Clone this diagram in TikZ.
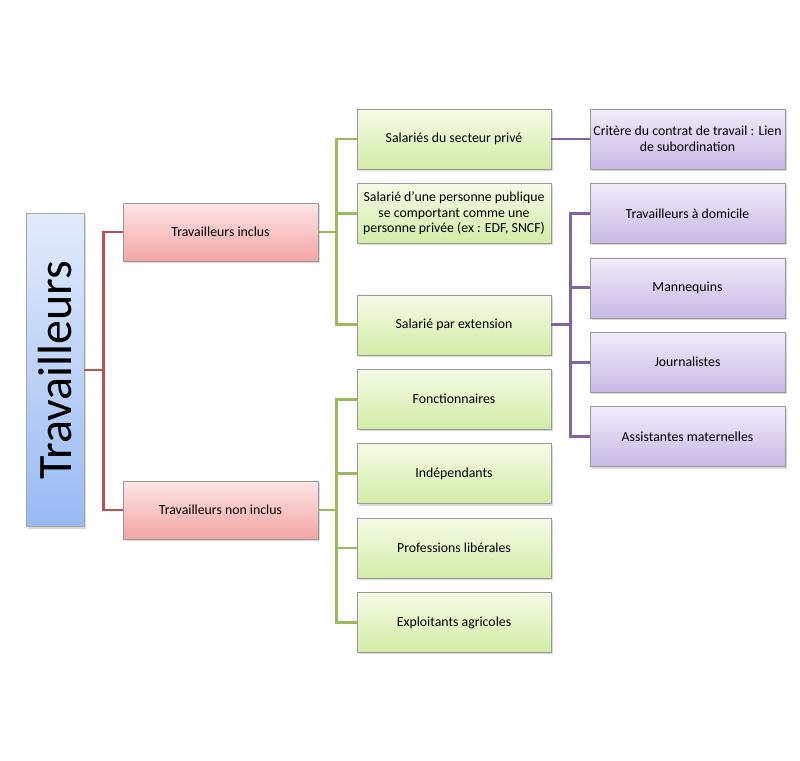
\documentclass[tikz,border=0pt]{standalone}
\usepackage{fontspec}
\setmainfont{Carlito}
\usetikzlibrary{positioning,shadows}
\definecolor{rootlight}{RGB}{226,235,252}
\definecolor{rootdark}{RGB}{152,186,243}
\definecolor{redlight}{RGB}{253,230,230}
\definecolor{reddark}{RGB}{244,164,164}
\definecolor{greenlight}{RGB}{245,251,230}
\definecolor{greendark}{RGB}{211,236,166}
\definecolor{purplelight}{RGB}{241,236,250}
\definecolor{purpledark}{RGB}{200,184,230}
\definecolor{redline}{RGB}{192,80,77}
\definecolor{greenline}{RGB}{155,187,89}
\definecolor{purpleline}{RGB}{128,100,162}

\begin{document}
\begin{tikzpicture}[x=1pt,y=-1pt,node distance = 14pt and 39pt,
    box/.style={rectangle,minimum width=194pt,minimum height=60pt,inner sep=2pt,draw=black!40,align=center,
        font=\fontsize{13.8}{15.5}\selectfont,drop shadow={opacity=0.3,shadow xshift=1.5pt,shadow yshift=-2pt}},
    rootbox/.style={box,minimum width=58pt,minimum height=313pt,top color=rootlight,bottom color=rootdark,draw=black!35},
    redbox/.style={box,minimum width=195pt,minimum height=58pt,top color=redlight,bottom color=reddark},
    greenbox/.style={box,top color=greenlight,bottom color=greendark},
    purplebox/.style={box,minimum width=195pt,top color=purplelight,bottom color=purpledark},
    link/.style={line width=2.8pt},
   ]
    \fill[white] (0,0) rectangle (800,760);
    \useasboundingbox (0,0) rectangle (800,760);

    \node (root)    [rootbox] at (55,370) {\rotatebox{90}{\fontsize{48}{48}\selectfont Travailleurs}};
    \node (incl)    [redbox] at (220.5,232) {Travailleurs inclus};
    \node (nonincl) [redbox] at (220.5,510) {Travailleurs non inclus};

    \node (prive)  [greenbox] at (454,139) {Salariés du secteur privé};
    \node (publ)   [greenbox,below=of prive] {Salarié d'une personne publique\\ se comportant comme une\\ personne privée (ex : EDF, SNCF)};
    \node (ext)    [greenbox,below=of publ,yshift=-37pt] {Salarié par extension};
    \node (fonct)  [greenbox,below=of ext] {Fonctionnaires};
    \node (indep)  [greenbox,below=of fonct] {Indépendants};
    \node (prof)   [greenbox,below=of indep] {Professions libérales};
    \node (expl)   [greenbox,below=of prof] {Exploitants agricoles};

    \node (crit)   [purplebox] at (687.5,139) {Critère du contrat de travail : Lien\\ de subordination};
    \node (dom)    [purplebox,below=of crit] {Travailleurs à domicile};
    \node (mann)   [purplebox,below=of dom] {Mannequins};
    \node (journ)  [purplebox,below=of mann] {Journalistes};
    \node (assist) [purplebox,below=of journ] {Assistantes maternelles};

    % root -> two groups
    \foreach \n in {incl,nonincl}
        \draw[link,redline] (root.east) -- ++(19,0) |- (\n.west);
    % included workers
    \foreach \n in {prive,publ,ext}
        \draw[link,greenline] (incl.east) -- ++(18,0) |- (\n.west);
    % workers not included
    \foreach \n in {fonct,indep,prof,expl}
        \draw[link,greenline] (nonincl.east) -- ++(18,0) |- (\n.west);
    % criteria and extensions
    \draw[link,purpleline] (prive.east) -- (crit.west);
    \foreach \n in {dom,mann,journ,assist}
        \draw[link,purpleline] (ext.east) -- ++(19,0) |- (\n.west);
\end{tikzpicture}
\end{document}
